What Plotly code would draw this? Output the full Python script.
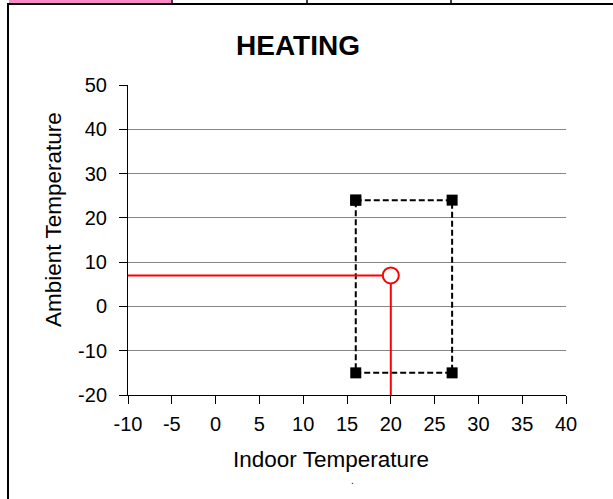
import plotly.graph_objects as go

# ---- data ----
comfort_x = [16, 27, 27, 16, 16]
comfort_y = [24, 24, -15, -15, 24]
op_line_x = [-10, 20, 20]
op_line_y = [7, 7, -20]
op_point_x = [20]
op_point_y = [7]
x_ticks = [-10, -5, 0, 5, 10, 15, 20, 25, 30, 35, 40]
y_ticks = [-20, -10, 0, 10, 20, 30, 40, 50]

W, H = 613, 499
L, R, T, B = 128, 47, 85, 104
FONT = "Liberation Sans, Arial, sans-serif"


def px2x(px):
    return (px - L) / (W - L - R)


def px2y(py):
    return 1 - (py - T) / (H - T - B)


fig = go.Figure()

fig.add_trace(go.Scatter(
    x=comfort_x, y=comfort_y, mode="lines+markers",
    line=dict(color="black", width=2, dash="6px,3px"),
    marker=dict(symbol="square", size=11, color="black"),
    showlegend=False, hoverinfo="skip"))

fig.add_trace(go.Scatter(
    x=op_line_x, y=op_line_y, mode="lines",
    line=dict(color="#FF0000", width=2),
    showlegend=False, hoverinfo="skip"))

fig.add_trace(go.Scatter(
    x=op_point_x, y=op_point_y, mode="markers",
    marker=dict(symbol="circle", size=16, color="white",
                line=dict(color="#FF0000", width=2)),
    showlegend=False, hoverinfo="skip", cliponaxis=False))

shapes = []
# pink cell of the table above
shapes.append(dict(type="rect", xref="paper", yref="paper",
                   x0=px2x(9), x1=px2x(171), y0=px2y(0), y1=px2y(3),
                   fillcolor="#F98BC6", line=dict(width=0), layer="above"))
# table borders
shapes.append(dict(type="line", xref="paper", yref="paper",
                   x0=px2x(7), x1=px2x(613), y0=px2y(4), y1=px2y(4),
                   line=dict(color="black", width=2), layer="above"))
shapes.append(dict(type="line", xref="paper", yref="paper",
                   x0=px2x(8), x1=px2x(8), y0=px2y(3), y1=px2y(499),
                   line=dict(color="black", width=2), layer="above"))
for xp in [172, 307, 451]:
    shapes.append(dict(type="line", xref="paper", yref="paper",
                       x0=px2x(xp), x1=px2x(xp), y0=px2y(0), y1=px2y(4),
                       line=dict(color="black", width=1.5), layer="above"))

annotations = [
    dict(text="Indoor Temperature", x=px2x(330.5), y=px2y(459),
         xref="paper", yref="paper", xanchor="center", yanchor="middle",
         showarrow=False, font=dict(family=FONT, size=22.5, color="black")),
    dict(text="Ambient Temperature", x=px2x(53), y=px2y(220),
         xref="paper", yref="paper", xanchor="center", yanchor="middle",
         textangle=-90, showarrow=False,
         font=dict(family=FONT, size=22.5, color="black")),
    dict(text=".", x=px2x(352), y=px2y(488), xref="paper",
         yref="paper", yanchor="bottom", showarrow=False,
         font=dict(family=FONT, size=10, color="black")),
]

fig.update_layout(
    width=W, height=H,
    margin=dict(l=L, r=R, t=T, b=B, pad=0),
    paper_bgcolor="white", plot_bgcolor="white",
    font=dict(family=FONT, color="black", size=20),
    title=dict(text="<b>HEATING</b>", x=298 / W, xanchor="center",
               y=1 - 45 / H, yanchor="middle", yref="container",
               font=dict(family=FONT, size=28, color="black")),
    shapes=shapes,
    annotations=annotations,
)

fig.update_xaxes(
    range=[-10, 40], tickvals=x_ticks, ticktext=[str(v) for v in x_ticks],
    showgrid=False, zeroline=False,
    showline=True, linecolor="black", linewidth=1,
    ticks="outside", ticklen=8, tickcolor="black", tickwidth=1,
    ticklabelstandoff=3,
    tickfont=dict(family=FONT, size=20, color="black"),
)
fig.update_yaxes(
    range=[-20, 50], tickvals=y_ticks, ticktext=[str(v) for v in y_ticks],
    showgrid=True, gridcolor="#868686", gridwidth=1, zeroline=False,
    showline=True, linecolor="black", linewidth=1,
    ticks="outside", ticklen=8, tickcolor="black", tickwidth=1,
    ticklabelstandoff=8,
    tickfont=dict(family=FONT, size=20, color="black"),
)

fig.write_html("out.html",
               config={"displayModeBar": False},
               post_script="document.body.style.margin='0';"
                           "document.body.style.overflow='hidden';")
